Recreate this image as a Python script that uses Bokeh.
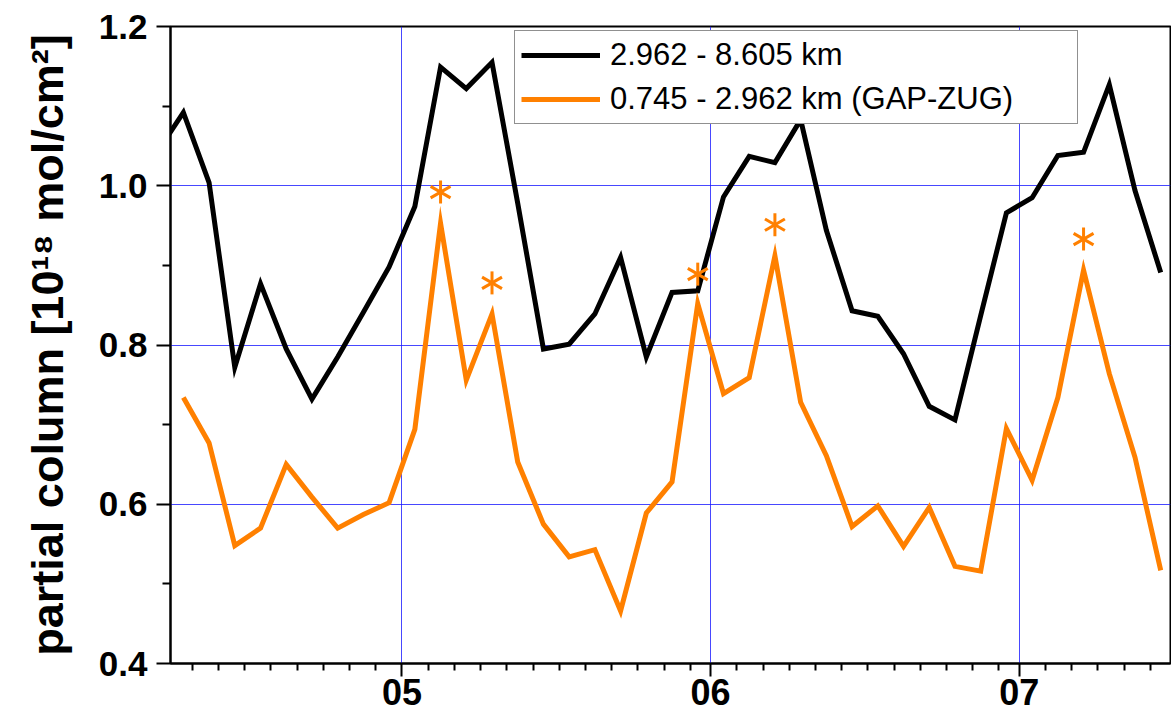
import math
from bokeh.plotting import figure
from bokeh.models import Range1d, FixedTicker, Legend, LegendItem, PrintfTickFormatter
from bokeh.embed import file_html
from bokeh.resources import INLINE

# ---------------- data ----------------
# time in days (day-of-month + hour/24), 2-hourly values
TIME_UPPER = [4.2083, 4.2917, 4.3750, 4.4583, 4.5417, 4.6250, 4.7083, 4.7917,
              4.8750, 4.9583, 5.0417, 5.1250, 5.2083, 5.2917, 5.3750, 5.4583,
              5.5417, 5.6250, 5.7083, 5.7917, 5.8750, 5.9583, 6.0417, 6.1250,
              6.2083, 6.2917, 6.3750, 6.4583, 6.5417, 6.6250, 6.7083, 6.7917,
              6.8750, 6.9583, 7.0417, 7.1250, 7.2083, 7.2917, 7.3750, 7.4583]
COL_UPPER = [1.043, 1.092, 1.004, 0.772, 0.877, 0.795, 0.732, 0.785,
             0.841, 0.898, 0.974, 1.149, 1.122, 1.155, 0.978, 0.795,
             0.801, 0.839, 0.910, 0.785, 0.866, 0.868, 0.986, 1.037,
             1.029, 1.083, 0.944, 0.843, 0.836, 0.789, 0.723, 0.706,
             0.837, 0.966, 0.985, 1.038, 1.042, 1.127, 0.994, 0.891]

TIME_LOWER = [4.2917, 4.3750, 4.4583, 4.5417, 4.6250, 4.7083, 4.7917, 4.8750,
              4.9583, 5.0417, 5.1250, 5.2083, 5.2917, 5.3750, 5.4583, 5.5417,
              5.6250, 5.7083, 5.7917, 5.8750, 5.9583, 6.0417, 6.1250, 6.2083,
              6.2917, 6.3750, 6.4583, 6.5417, 6.6250, 6.7083, 6.7917, 6.8750,
              6.9583, 7.0417, 7.1250, 7.2083, 7.2917, 7.3750, 7.4583]
COL_LOWER = [0.734, 0.677, 0.548, 0.570, 0.650, 0.609, 0.570, 0.587,
             0.602, 0.694, 0.953, 0.756, 0.839, 0.653, 0.575, 0.534,
             0.543, 0.466, 0.589, 0.628, 0.852, 0.739, 0.759, 0.912,
             0.728, 0.661, 0.572, 0.598, 0.547, 0.596, 0.522, 0.516,
             0.695, 0.630, 0.734, 0.894, 0.764, 0.659, 0.517]

TIME_STAR = [5.1250, 5.2917, 5.9583, 6.2083, 7.2083]
COL_STAR = [0.992, 0.878, 0.889, 0.951, 0.933]

SERIES_NAMES = ["2.962 - 8.605 km", "0.745 - 2.962 km (GAP-ZUG)"]
X_MAJOR = [5, 6, 7]
X_LABELS = ["05", "06", "07"]
Y_MAJOR = [0.4, 0.6, 0.8, 1.0, 1.2]
Y_MINOR = [0.5, 0.7, 0.9, 1.1]
Y_GRID = [0.6, 0.8, 1.0]
X_RANGE = (4.25, 7.49)
Y_RANGE = (0.4, 1.2)
Y_TITLE = "partial column [10\u00b9\u2078 mol/cm\u00b2]"

# ---------------- style ----------------
BLACK = "#000000"
ORANGE = "#ff8000"
GRID_BLUE = "#1a1aff"
FONT = "Liberation Sans"
MINOR_STEP = 0.0849

minor_x = []
for m in X_MAJOR:
    for k in range(1, 12):
        v = m + k * MINOR_STEP
        if v <= X_RANGE[1]:
            minor_x.append(v)
for k in range(1, 12):
    v = X_MAJOR[0] - k * MINOR_STEP
    if v >= X_RANGE[0]:
        minor_x.append(v)

p = figure(width=1171, height=717, output_backend="svg", toolbar_location=None,
           x_range=Range1d(*X_RANGE), y_range=Range1d(*Y_RANGE),
           min_border_left=170, min_border_right=1, min_border_top=26,
           min_border_bottom=54)

p.background_fill_color = "white"
p.border_fill_color = "white"
p.outline_line_color = BLACK
p.outline_line_width = 2

# grids
p.xgrid.ticker = FixedTicker(ticks=X_MAJOR)
p.ygrid.ticker = FixedTicker(ticks=Y_GRID)
for g in (p.xgrid, p.ygrid):
    g.grid_line_color = GRID_BLUE
    g.grid_line_width = 1
    g.grid_line_alpha = 0.8

# x axis
xa = p.xaxis[0]
xa.ticker = FixedTicker(ticks=X_MAJOR, minor_ticks=minor_x)
xa.major_label_overrides = {t: lab for t, lab in zip(X_MAJOR, X_LABELS)}
xa.axis_line_width = 2
xa.axis_line_color = BLACK
xa.major_tick_line_width = 2
xa.minor_tick_line_width = 2
xa.major_tick_out = 13
xa.major_tick_in = 0
xa.minor_tick_out = 7
xa.minor_tick_in = 0
xa.major_label_standoff = 2
xa.major_label_text_font = FONT
xa.major_label_text_font_style = "bold"
xa.major_label_text_font_size = "36px"
xa.major_label_text_color = BLACK

# y axis
ya = p.yaxis[0]
ya.ticker = FixedTicker(ticks=Y_MAJOR, minor_ticks=Y_MINOR)
ya.formatter = PrintfTickFormatter(format="%.1f")
ya.axis_line_width = 2
ya.axis_line_color = BLACK
ya.major_tick_line_width = 2
ya.minor_tick_line_width = 2
ya.major_tick_out = 14
ya.major_tick_in = 0
ya.minor_tick_out = 8
ya.minor_tick_in = 0
ya.major_label_standoff = 9
ya.major_label_text_font = FONT
ya.major_label_text_font_style = "bold"
ya.major_label_text_font_size = "35px"
ya.major_label_text_color = BLACK
ya.axis_label = Y_TITLE
ya.axis_label_text_font = FONT
ya.axis_label_text_font_style = "bold"
ya.axis_label_text_font_size = "45px"
ya.axis_label_text_color = BLACK
ya.axis_label_standoff = 23

# series
r1 = p.line(TIME_UPPER, COL_UPPER, line_color=BLACK, line_width=5, line_join="miter")
r2 = p.line(TIME_LOWER, COL_LOWER, line_color=ORANGE, line_width=5, line_join="miter")
for ang in (math.pi / 2, math.pi / 6, -math.pi / 6):
    p.scatter(TIME_STAR, COL_STAR, marker="dash", size=23, angle=ang,
              line_color=ORANGE, line_width=3)

legend = Legend(items=[LegendItem(label=SERIES_NAMES[0], renderers=[r1]),
                       LegendItem(label=SERIES_NAMES[1], renderers=[r2])],
                location=(344, 539), padding=6, spacing=8,
                glyph_width=79, glyph_height=36, label_height=36,
                label_width=461, label_standoff=10,
                label_text_font=FONT, label_text_font_size="31px",
                label_text_color=BLACK,
                border_line_color="#222222", border_line_width=1.5,
                background_fill_color="white", background_fill_alpha=1.0)
p.add_layout(legend)

open("out.html", "w").write(file_html(p, INLINE))
